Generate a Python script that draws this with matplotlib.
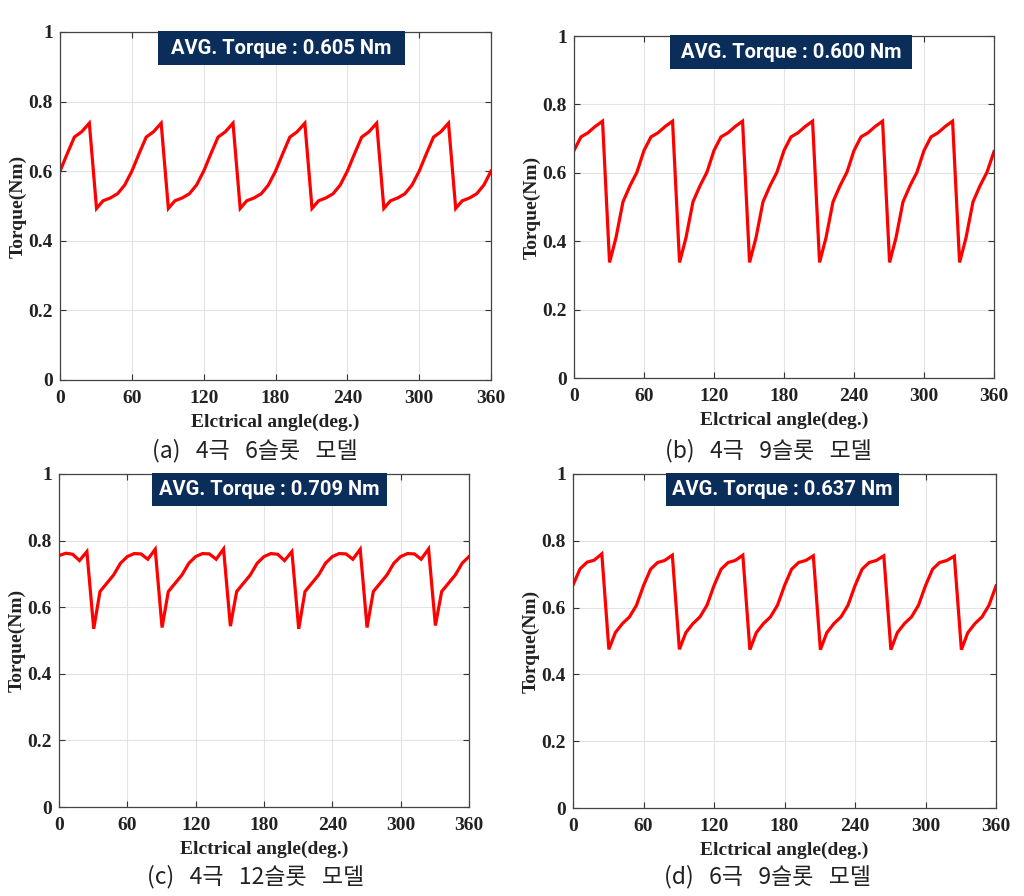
import numpy as np
import matplotlib
matplotlib.use("Agg")
import matplotlib.pyplot as plt
from matplotlib.patches import Rectangle

angle = [0, 6, 12, 18, 24.5, 30.5, 36, 42, 48, 54,
         60, 66, 72, 78, 84.5, 90.5, 96, 102, 108, 114,
         120, 126, 132, 138, 144.5, 150.5, 156, 162, 168, 174,
         180, 186, 192, 198, 204.5, 210.5, 216, 222, 228, 234,
         240, 246, 252, 258, 264.5, 270.5, 276, 282, 288, 294,
         300, 306, 312, 318, 324.5, 330.5, 336, 342, 348, 354,
         360]

# (a) 4 pole 6 slot
torque_a = [0.600, 0.650, 0.698, 0.713, 0.738, 0.493, 0.515, 0.523, 0.535, 0.560,
            0.600, 0.650, 0.698, 0.713, 0.738, 0.493, 0.515, 0.523, 0.535, 0.560,
            0.600, 0.650, 0.698, 0.713, 0.738, 0.493, 0.515, 0.523, 0.535, 0.560,
            0.600, 0.650, 0.698, 0.713, 0.738, 0.493, 0.515, 0.523, 0.535, 0.560,
            0.600, 0.650, 0.698, 0.713, 0.738, 0.493, 0.515, 0.523, 0.535, 0.560,
            0.600, 0.650, 0.698, 0.713, 0.738, 0.493, 0.515, 0.523, 0.535, 0.560,
            0.600]

# (b) 4 pole 9 slot
torque_b = [0.665, 0.705, 0.717, 0.735, 0.751, 0.338, 0.410, 0.515, 0.562, 0.602,
            0.665, 0.705, 0.717, 0.735, 0.751, 0.338, 0.410, 0.515, 0.562, 0.602,
            0.665, 0.705, 0.717, 0.735, 0.751, 0.338, 0.410, 0.515, 0.562, 0.602,
            0.665, 0.705, 0.717, 0.735, 0.751, 0.338, 0.410, 0.515, 0.562, 0.602,
            0.665, 0.705, 0.717, 0.735, 0.751, 0.338, 0.410, 0.515, 0.562, 0.602,
            0.665, 0.705, 0.717, 0.735, 0.751, 0.338, 0.410, 0.515, 0.562, 0.602,
            0.662]

# (c) 4 pole 12 slot
torque_c = [0.755, 0.762, 0.759, 0.740, 0.767, 0.535, 0.647, 0.672, 0.697, 0.732,
            0.752, 0.761, 0.760, 0.744, 0.774, 0.539, 0.647, 0.672, 0.697, 0.732,
            0.752, 0.761, 0.760, 0.744, 0.775, 0.543, 0.647, 0.672, 0.697, 0.732,
            0.752, 0.761, 0.759, 0.740, 0.767, 0.535, 0.647, 0.672, 0.697, 0.732,
            0.752, 0.761, 0.760, 0.744, 0.774, 0.539, 0.647, 0.672, 0.697, 0.732,
            0.752, 0.761, 0.760, 0.744, 0.775, 0.545, 0.647, 0.672, 0.697, 0.732,
            0.752]

# (d) 6 pole 9 slot
torque_d = [0.668, 0.716, 0.736, 0.742, 0.761, 0.475, 0.525, 0.552, 0.572, 0.607,
            0.666, 0.715, 0.735, 0.741, 0.757, 0.475, 0.525, 0.552, 0.572, 0.607,
            0.666, 0.715, 0.735, 0.741, 0.757, 0.474, 0.525, 0.552, 0.572, 0.607,
            0.666, 0.715, 0.735, 0.741, 0.755, 0.474, 0.525, 0.552, 0.572, 0.607,
            0.666, 0.715, 0.735, 0.741, 0.755, 0.474, 0.525, 0.552, 0.572, 0.607,
            0.666, 0.715, 0.735, 0.741, 0.754, 0.474, 0.525, 0.552, 0.572, 0.607,
            0.665]

avg_labels = ["AVG. Torque : 0.605 Nm", "AVG. Torque : 0.600 Nm",
              "AVG. Torque : 0.709 Nm", "AVG. Torque : 0.637 Nm"]
captions = ["(a)   4극   6슬롯   모델", "(b)   4극   9슬롯   모델",
            "(c)   4극   12슬롯   모델", "(d)   6극   9슬롯   모델"]

xticks = [0, 60, 120, 180, 240, 300, 360]
yticks = [0, 0.2, 0.4, 0.6, 0.8, 1]
ytick_labels = ["0", "0.2", "0.4", "0.6", "0.8", "1"]

series = [torque_a, torque_b, torque_c, torque_d]

positions = [[0.0586, 0.5759, 0.4209, 0.3884],
             [0.5605, 0.5781, 0.4102, 0.3817],
             [0.0576, 0.0993, 0.4004, 0.3717],
             [0.5596, 0.0982, 0.4131, 0.3728]]
box_x = [(0.227, 0.800), (0.229, 0.805), (0.227, 0.800), (0.220, 0.771)]
caption_xy = [(0.249, 0.497), (0.750, 0.497), (0.250, 0.022), (0.750, 0.022)]

serif = "Liberation Serif"
navy = "#0b2d59"

fig = plt.figure(figsize=(10.24, 8.96), dpi=100)

for i in range(4):
    ax = fig.add_axes(positions[i])
    ax.plot(angle, series[i], color="#ff0000", lw=2.3, solid_joinstyle="miter")
    ax.set_xlim(0, 360)
    ax.set_ylim(0, 1)
    ax.set_xticks(xticks)
    ax.set_yticks(yticks)
    ax.set_yticklabels(ytick_labels)
    ax.grid(True, color="#e3e3e3", lw=0.8)
    ax.set_axisbelow(True)
    ax.tick_params(direction="in", top=True, right=True, length=4, width=0.8,
                   color="#333333")
    ax.tick_params(axis="x", pad=7)
    ax.tick_params(axis="y", pad=5)
    for lab in ax.get_xticklabels() + ax.get_yticklabels():
        lab.set_fontfamily(serif)
        lab.set_fontweight("bold")
        lab.set_fontsize(14)
        lab.set_color("#222222")
    for sp in ax.spines.values():
        sp.set_color("#444444")
        sp.set_linewidth(0.9)
    ax.set_xlabel("Elctrical angle(deg.)", fontfamily=serif, fontweight="bold",
                  fontsize=14, labelpad=5, color="#222222")
    ax.set_ylabel("Torque(Nm)", fontfamily=serif, fontweight="bold",
                  fontsize=14, labelpad=1.5, color="#222222")

    x0, x1 = box_x[i]
    ax.add_patch(Rectangle((x0, 0.904), x1 - x0, 0.098, transform=ax.transAxes,
                           facecolor=navy, edgecolor="none", clip_on=False, zorder=5))
    ax.text((x0 + x1) / 2, 0.953, avg_labels[i], transform=ax.transAxes,
            ha="center", va="center", color="white", fontsize=14.5, fontweight="bold",
            family=["Roboto", "DejaVu Sans"], zorder=6)

    cx, cy = caption_xy[i]
    fig.text(cx, cy, captions[i], ha="center", va="center", fontsize=16.5,
             family=["Noto Sans CJK KR", "DejaVu Sans"], color="#222222")

fig.savefig("out.png", dpi=100)
